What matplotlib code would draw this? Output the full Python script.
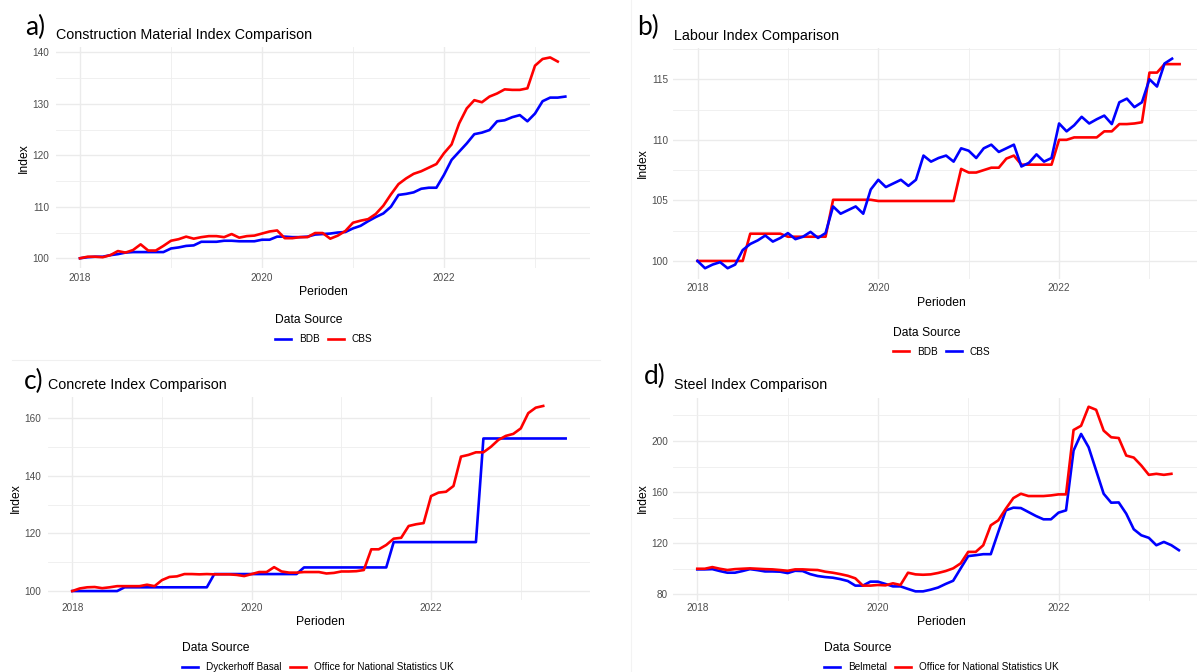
import numpy as np
from matplotlib import pyplot as plt
from matplotlib.lines import Line2D
from matplotlib.ticker import MultipleLocator

plt.rcParams['font.family'] = ['Liberation Sans', 'DejaVu Sans']

W, H = 1197, 672

# monthly index values, first point = Jan 2018
mat_bdb = [100.0, 100.2, 100.3, 100.3, 100.6, 100.8, 101.1, 101.2, 101.2, 101.2, 101.2, 101.2,
           101.9, 102.1, 102.4, 102.5, 103.2, 103.2, 103.2, 103.4, 103.4, 103.3, 103.3, 103.3,
           103.6, 103.6, 104.2, 104.2, 104.1, 104.1, 104.2, 104.6, 104.7, 104.8, 105.0, 105.1,
           105.8, 106.3, 107.2, 108.0, 108.7, 110.0, 112.3, 112.5, 112.8, 113.5, 113.7, 113.7,
           116.2, 119.1, 120.7, 122.3, 124.1, 124.4, 124.9, 126.6, 126.8, 127.4, 127.8, 126.6,
           128.1, 130.5, 131.2, 131.2, 131.4]
mat_cbs = [100.0, 100.3, 100.3, 100.2, 100.6, 101.4, 101.1, 101.6, 102.7, 101.5, 101.5, 102.4,
           103.4, 103.7, 104.2, 103.8, 104.1, 104.3, 104.3, 104.1, 104.7, 104.0, 104.3, 104.4,
           104.8, 105.2, 105.4, 103.9, 103.9, 104.1, 104.1, 104.9, 104.9, 103.8, 104.4, 105.3,
           106.9, 107.3, 107.6, 108.6, 110.2, 112.4, 114.4, 115.5, 116.4, 116.9, 117.6, 118.3,
           120.4, 122.1, 126.2, 129.1, 130.7, 130.3, 131.4, 132.0, 132.8, 132.7, 132.7, 133.0,
           137.4, 138.7, 139.0, 138.2]

lab_bdb = [100.0, 100.0, 100.0, 100.0, 100.0, 100.0, 100.0, 102.25, 102.25, 102.25, 102.25, 102.25,
           102.0, 102.0, 102.0, 102.0, 102.0, 102.0, 105.05, 105.05, 105.05, 105.05, 105.05, 105.05,
           104.95, 104.95, 104.95, 104.95, 104.95, 104.95, 104.95, 104.95, 104.95, 104.95, 104.95, 107.6,
           107.3, 107.3, 107.5, 107.7, 107.7, 108.45, 108.7, 107.95, 107.95, 107.95, 107.95, 107.95,
           110.0, 110.0, 110.2, 110.2, 110.2, 110.2, 110.7, 110.7, 111.3, 111.3, 111.35, 111.45,
           115.55, 115.55, 116.25, 116.25, 116.25]
lab_cbs = [100.0, 99.4, 99.7, 99.9, 99.4, 99.7, 100.9, 101.4, 101.7, 102.1, 101.6, 101.9,
           102.3, 101.8, 102.0, 102.4, 101.9, 102.3, 104.5, 103.9, 104.2, 104.5, 103.9, 105.9,
           106.7, 106.1, 106.4, 106.7, 106.2, 106.7, 108.7, 108.2, 108.5, 108.7, 108.2, 109.3,
           109.1, 108.5, 109.3, 109.6, 109.0, 109.3, 109.6, 107.8, 108.1, 108.8, 108.2, 108.5,
           111.35, 110.7, 111.2, 111.9, 111.35, 111.7, 112.0, 111.3, 113.1, 113.4, 112.7, 113.1,
           115.0, 114.4, 116.3, 116.7]

conc_dyck = [100.0, 100.0, 100.0, 100.0, 100.0, 100.0, 100.0, 101.3, 101.3, 101.3, 101.3, 101.3,
             101.3, 101.3, 101.3, 101.3, 101.3, 101.3, 101.3, 105.9, 105.9, 105.9, 105.9, 105.9,
             105.9, 105.9, 105.9, 105.9, 105.9, 105.9, 105.9, 108.2, 108.2, 108.2, 108.2, 108.2,
             108.2, 108.2, 108.2, 108.2, 108.2, 108.2, 108.2, 117.0, 117.0, 117.0, 117.0, 117.0,
             117.0, 117.0, 117.0, 117.0, 117.0, 117.0, 117.0, 153.0, 153.0, 153.0, 153.0, 153.0,
             153.0, 153.0, 153.0, 153.0, 153.0, 153.0, 153.0]
conc_ons = [100.0, 100.9, 101.3, 101.4, 101.0, 101.3, 101.7, 101.7, 101.7, 101.7, 102.2, 101.7,
            103.8, 104.9, 105.1, 105.9, 105.9, 105.8, 105.9, 105.8, 105.8, 105.8, 105.6, 105.2,
            105.9, 106.6, 106.6, 108.3, 106.8, 106.4, 106.4, 106.6, 106.6, 106.6, 106.1, 106.3,
            106.8, 106.8, 106.9, 107.3, 114.5, 114.5, 116.0, 118.2, 118.5, 122.6, 123.2, 123.6,
            133.0, 134.2, 134.5, 136.5, 146.7, 147.3, 148.2, 148.2, 150.1, 152.5, 153.9, 154.6,
            156.5, 161.8, 163.7, 164.3]

steel_bel = [99.5, 99.5, 99.7, 98.2, 96.9, 96.9, 98.2, 99.7, 98.9, 97.9, 97.9, 97.7,
             96.6, 98.4, 98.2, 95.8, 94.3, 93.5, 93.0, 91.9, 90.4, 86.8, 86.8, 89.9,
             89.9, 88.1, 86.2, 86.2, 84.2, 82.3, 82.3, 83.6, 85.3, 88.1, 90.6, 100.3,
             109.9, 110.6, 111.4, 111.4, 128.8, 145.7, 147.8, 147.5, 144.4, 141.3, 138.7, 138.7,
             143.9, 145.7, 192.5, 205.5, 195.1, 176.9, 158.7, 151.7, 151.9, 143.1, 130.9, 126.2,
             124.2, 118.4, 121.0, 118.4, 114.5]
steel_ons = [100.0, 100.0, 101.3, 100.0, 99.0, 99.7, 100.0, 100.3, 100.0, 99.7, 99.5, 99.0,
             98.4, 99.5, 99.5, 99.2, 99.0, 97.7, 96.9, 95.8, 94.5, 92.5, 86.8, 86.8,
             87.3, 87.0, 88.6, 87.3, 96.9, 95.6, 95.3, 95.6, 96.7, 98.2, 100.3, 104.2,
             113.2, 113.2, 118.4, 134.0, 137.9, 147.0, 155.3, 158.7, 156.9, 156.9, 156.9, 157.4,
             158.2, 158.2, 208.6, 211.9, 226.8, 224.4, 208.1, 202.9, 202.3, 188.6, 187.0, 180.8,
             173.5, 174.3, 173.5, 174.3]

year_major = [2018, 2020, 2022]
year_minor = [2019, 2021, 2023]
BLUE, RED = '#0000FF', '#FF0000'


def rect(l, t, r, b):
    return [l / W, 1 - b / H, (r - l) / W, (b - t) / H]


def txt(fig, x, y, s, **kw):
    fig.text(x / W, 1 - y / H, s, **kw)


def panel(fig, box, series, ystep, ypad, xpad):
    ''' one ggplot-like panel (theme_minimal) in a pixel box
    '''
    ax = fig.add_axes(rect(*box))
    xs, ys = [], []
    lines = []
    for vals, col, lab in series:
        x = 2018 + np.arange(len(vals)) / 12
        l, = ax.plot(x, vals, color=col, lw=1.9, label=lab, solid_joinstyle='round')
        lines.append(l)
        xs += list(x)
        ys += list(vals)
    # 5% expansion like ggplot
    dx = 0.05 * (max(xs) - min(xs))
    dy = 0.05 * (max(ys) - min(ys))
    ax.set_xlim(min(xs) - dx, max(xs) + dx)
    ax.set_ylim(min(ys) - dy, max(ys) + dy)
    ax.set_xticks(year_major)
    ax.set_xticklabels([str(y) for y in year_major])
    ax.set_xticks(year_minor, minor=True)
    ax.yaxis.set_major_locator(MultipleLocator(ystep))
    ax.yaxis.set_minor_locator(MultipleLocator(ystep / 2))
    ax.grid(which='major', color='#EBEBEB', lw=1.0)
    ax.grid(which='minor', color='#EEEEEE', lw=0.6)
    ax.set_axisbelow(True)
    for s in ax.spines.values():
        s.set_visible(False)
    ax.tick_params(which='both', length=0, labelsize=7.2, labelcolor='#4D4D4D')
    ax.tick_params(axis='y', pad=ypad)
    ax.tick_params(axis='x', pad=xpad)
    return ax, lines


def legend(fig, lines, x, y):
    leg = fig.legend(handles=lines, labels=[l.get_label() for l in lines], title='Data Source',
                     loc='upper left', bbox_to_anchor=(x / W, 1 - y / H), ncol=2, frameon=False,
                     fontsize=7.2, title_fontsize=8.7, alignment='left', handlelength=1.6,
                     handletextpad=0.8, columnspacing=0.8, borderpad=0, borderaxespad=0,
                     labelspacing=0.8)
    return leg


fig = plt.figure(figsize=(W / 100, H / 100), dpi=100)

# faint borders of the pasted screenshots
fig.add_artist(Line2D([12 / W, 600 / W], [1 - 360 / H, 1 - 360 / H], color='#F0F0F0', lw=0.8))
fig.add_artist(Line2D([631 / W, 631 / W], [0, 1], color='#F3F3F3', lw=0.8))

# a) construction material
ax, ln = panel(fig, (55.7, 47.4, 589.6, 268.3),
               [(mat_bdb, BLUE, 'BDB'), (mat_cbs, RED, 'CBS')], 10, 4.6, 3.3)
txt(fig, 25, 35, 'a)', fontsize=19, family='Lato', va='baseline')
txt(fig, 56, 39.5, 'Construction Material Index Comparison', fontsize=10.3, va='baseline')
txt(fig, 24, 158, 'Index', fontsize=8.7, rotation=90, ha='center', va='center')
txt(fig, 323, 292, 'Perioden', fontsize=8.7, ha='center', va='center')
legend(fig, ln, 275, 314)

# b) labour
ax, ln = panel(fig, (673.4, 48.2, 1203.7, 278.7),
               [(lab_bdb, RED, 'BDB'), (lab_cbs, BLUE, 'CBS')], 5, 3.8, 3.4)
txt(fig, 637, 35, 'b)', fontsize=19, family='Lato', va='baseline')
txt(fig, 674, 40, 'Labour Index Comparison', fontsize=10.3, va='baseline')
txt(fig, 643, 163, 'Index', fontsize=8.7, rotation=90, ha='center', va='center')
txt(fig, 941, 302.6, 'Perioden', fontsize=8.7, ha='center', va='center')
legend(fig, ln, 893, 327)

# c) concrete
ax, ln = panel(fig, (47.6, 396.7, 590.3, 600.3),
               [(conc_dyck, BLUE, 'Dyckerhoff Basal'), (conc_ons, RED, 'Office for National Statistics UK')],
               20, 4.3, 2.2)
txt(fig, 24, 389, 'c)', fontsize=19, family='Lato', va='baseline')
txt(fig, 48, 389, 'Concrete Index Comparison', fontsize=10.3, va='baseline')
txt(fig, 15.5, 498, 'Index', fontsize=8.7, rotation=90, ha='center', va='center')
txt(fig, 320, 621.7, 'Perioden', fontsize=8.7, ha='center', va='center')
legend(fig, ln, 182, 642)

# d) steel
ax, ln = panel(fig, (673.2, 397.5, 1203, 600.6),
               [(steel_bel, BLUE, 'Belmetal'), (steel_ons, RED, 'Office for National Statistics UK')],
               40, 3.8, 2.0)
txt(fig, 644, 384, 'd)', fontsize=19, family='Lato', va='baseline')
txt(fig, 674, 389, 'Steel Index Comparison', fontsize=10.3, va='baseline')
txt(fig, 643, 498, 'Index', fontsize=8.7, rotation=90, ha='center', va='center')
txt(fig, 941, 621.7, 'Perioden', fontsize=8.7, ha='center', va='center')
legend(fig, ln, 824, 642)

fig.savefig('out.png', dpi=100)
